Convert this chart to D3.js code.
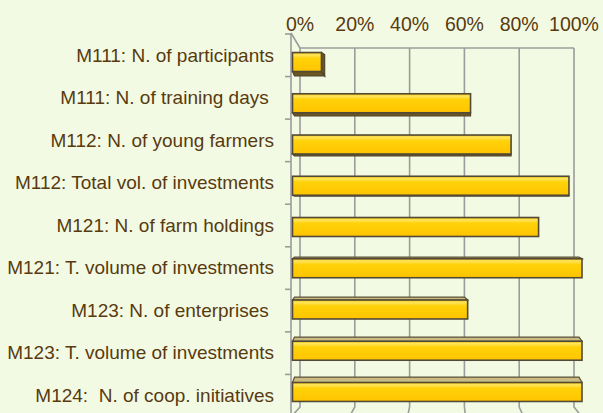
<!DOCTYPE html>
<html>
<head>
<meta charset="utf-8">
<script src="https://cdn.jsdelivr.net/npm/d3@7"></script>
<style>
  html, body { margin: 0; padding: 0; background: #f3fae3; }
  svg { display: block; }
  text { font-family: "Liberation Sans", Arial, sans-serif; fill: #583a10; }
</style>
</head>
<body>
<svg class="chart" width="603" height="413"></svg>
<script>
const WIDTH = 603;
const HEIGHT = 413;

const categories = [
  'M111: N. of participants',
  'M111: N. of training days ',
  'M112: N. of young farmers',
  'M112: Total vol. of investments',
  'M121: N. of farm holdings',
  'M121: T. volume of investments',
  'M123: N. of enterprises ',
  'M123: T. volume of investments',
  'M124:  N. of coop. initiatives',
];
const values = [10, 61.5, 75.5, 95.5, 85, 100, 60.5, 100, 100];
const tickValues = [0, 20, 40, 60, 80, 100];

const svg = d3.select('.chart');

svg.append('rect').attr('width', WIDTH).attr('height', HEIGHT).attr('fill', '#f3fae3');

// front face of the 3d box and back wall use different scales (perspective)
const xFront = d3.scaleLinear().domain([0, 100]).range([291, 582]);
const xBack = d3.scaleLinear().domain([0, 100]).range([300, 574]);
const xBar = d3.scaleLinear().domain([0, 100]).range([292.5, 582]);
const yLabel = d3.scaleBand().domain(categories).range([34, 417]);
const yBar = d3.scaleBand().domain(categories).range([41.4, 412.6]).paddingInner(0.54).paddingOuter(0.27);

const BACK_TOP = 48;
const BACK_BOTTOM = 407;
const FRONT_TOP = 33;
const FRONT_BOTTOM = 413;
const HORIZON = 212;

const defs = svg.append('defs');
const grad = defs.append('linearGradient').attr('id', 'barFill')
  .attr('x1', 0).attr('y1', 0).attr('x2', 0).attr('y2', 1);
[[0, '#f0c000'], [0.12, '#ffe660'], [0.3, '#ffd20a'], [1, '#ffc400']].forEach(([o, c]) => {
  grad.append('stop').attr('offset', o).attr('stop-color', c);
});

// back wall gridlines + floor edges
const grid = svg.append('g').attr('stroke', '#9c9c9c').attr('stroke-width', 1.6).attr('fill', 'none');
grid.selectAll('path.grid').data(tickValues).enter()
  .append('path')
  .attr('class', 'grid')
  .attr('d', (d) => `M${xBack(d)},${BACK_TOP}V${BACK_BOTTOM}L${xFront(d)},${FRONT_BOTTOM + 4}`);
grid.append('path').attr('d', `M${xBack(0)},${BACK_TOP}H${xBack(100)}`);
grid.append('path').attr('d', `M${xFront(0)},${FRONT_TOP}L${xBack(0)},${BACK_TOP}`);

// category axis (front left edge)
const axis = svg.append('g').attr('stroke', '#9c9c9c').attr('stroke-width', 1.6);
axis.append('line')
  .attr('x1', xFront(0)).attr('x2', xFront(0))
  .attr('y1', FRONT_TOP).attr('y2', HEIGHT + 5);
const bounds = categories.map((c) => yLabel(c)).concat([yLabel.range()[1]]);
axis.selectAll('line.tick').data(bounds).enter()
  .append('line')
  .attr('class', 'tick')
  .attr('x1', xFront(0) - 6).attr('x2', xFront(0))
  .attr('y1', (d) => d).attr('y2', (d) => d);

// tick labels
svg.append('g').selectAll('text').data(tickValues).enter()
  .append('text')
  .attr('x', (d) => xBack(d))
  .attr('y', 31)
  .attr('text-anchor', 'middle')
  .style('font-size', '19.5px')
  .text((d) => `${d}%`);

// category labels
svg.append('g').selectAll('text').data(categories).enter()
  .append('text')
  .attr('x', 274)
  .attr('y', (d) => yLabel(d) + yLabel.bandwidth() / 2)
  .attr('dy', '0.33em')
  .attr('text-anchor', 'end')
  .attr('xml:space', 'preserve')
  .style('white-space', 'pre')
  .style('font-size', '19px')
  .text((d) => d);

// bars
const bars = categories.map((c, i) => ({ name: c, value: values[i] }));
const group = svg.append('g').selectAll('g').data(bars).enter().append('g');

group.each(function (d) {
  const g = d3.select(this);
  const x0 = xBar(0);
  const x1 = xBar(d.value);
  const y0 = yBar(d.name);
  const h = yBar.bandwidth();
  const depth = (y0 + h / 2 - HORIZON) * 0.03;
  const side = (450 - x1) * 0.025;

  if (depth > 0.5) {
    // top face visible
    g.append('path')
      .attr('d', `M${x0},${y0}L${x0 + 2},${y0 - depth}L${x1 - 3},${y0 - depth}L${x1},${y0}Z`)
      .attr('fill', '#c9bb82').attr('stroke', '#5a5038').attr('stroke-width', 1.2);
  } else if (depth < -0.5) {
    // bottom face visible
    g.append('path')
      .attr('d', `M${x0},${y0 + h}L${x0 + 2},${y0 + h - depth}L${x1 + Math.max(side, 0)},${y0 + h - depth}L${x1},${y0 + h}Z`)
      .attr('fill', '#6b5620').attr('stroke', '#4e4430').attr('stroke-width', 1.2);
  }
  if (side > 0.5) {
    g.append('path')
      .attr('d', `M${x1},${y0}L${x1 + side},${y0 + 2}L${x1 + side},${y0 + h - Math.min(depth, 0)}L${x1},${y0 + h}Z`)
      .attr('fill', '#6b5620').attr('stroke', '#4e4430').attr('stroke-width', 1.2);
  }
  g.append('rect')
    .attr('x', x0).attr('y', y0)
    .attr('width', x1 - x0).attr('height', h)
    .attr('fill', 'url(#barFill)')
    .attr('stroke', '#524a36')
    .attr('stroke-width', 1.6);
});
</script>
</body>
</html>
